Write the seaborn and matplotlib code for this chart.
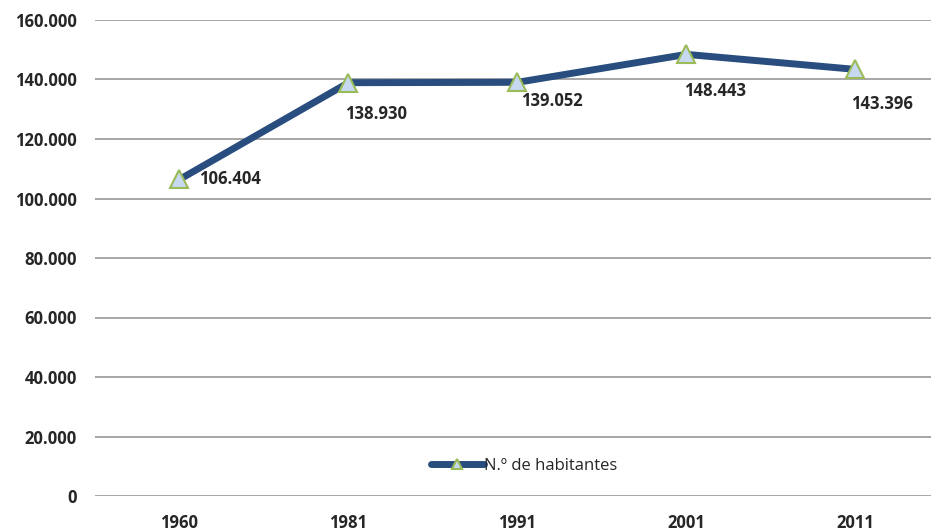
import matplotlib
matplotlib.use("Agg")
import matplotlib.pyplot as plt
import seaborn as sns
import pandas as pd

years = ["1960", "1981", "1991", "2001", "2011"]
habitantes = [106404, 138930, 139052, 148443, 143396]
value_labels = ["106.404", "138.930", "139.052", "148.443", "143.396"]
yticks = [0, 20000, 40000, 60000, 80000, 100000, 120000, 140000, 160000]
ytick_labels = ["0", "20.000", "40.000", "60.000", "80.000", "100.000", "120.000", "140.000", "160.000"]
series_name = "N.º de habitantes"

sns.set_theme(style="white")
plt.rcParams['font.family'] = ['Open Sans', 'DejaVu Sans']

df = pd.DataFrame({"x": range(len(years)), "y": habitantes, "serie": series_name})

fig = plt.figure(figsize=(9.31, 5.31), dpi=100)
ax = fig.add_axes([95/931, 35/531, (931-95)/931, (496-20)/531])

for t in yticks:
    ax.axhline(t, color="#a6a6a6", lw=1.4, zorder=0)

sns.lineplot(data=df, x="x", y="y", hue="serie", palette=["#284d7e"], lw=5,
             marker="^", markersize=13, markerfacecolor="#c6d9f1",
             markeredgecolor="#9bbb59", markeredgewidth=1.5, ax=ax, zorder=3)

offsets = [(20, 0, "left"), (28, -31, "center"), (34, -19, "center"),
           (29, -37, "center"), (27, -35, "center")]
for i, (lab, v) in enumerate(zip(value_labels, habitantes)):
    dx, dy, ha = offsets[i]
    ax.annotate(lab, (i, v), xytext=(dx, dy), textcoords="offset pixels", ha=ha, va="center",
                fontsize=12, fontweight="bold", color="#262626")

ax.set_xlim(-0.5, 4.447)
ax.set_ylim(0, 160000)
ax.set_xticks(range(len(years)))
ax.set_xticklabels(years)
ax.set_yticks(yticks)
ax.set_yticklabels(ytick_labels)
ax.tick_params(axis="both", length=0, labelsize=12, labelcolor="#262626")
for lbl in ax.get_xticklabels() + ax.get_yticklabels():
    lbl.set_fontweight("bold")
ax.tick_params(axis="y", pad=13)
ax.tick_params(axis="x", pad=13)
for s in ax.spines.values():
    s.set_visible(False)
ax.set_xlabel("")
ax.set_ylabel("")
leg = ax.legend(loc="center", bbox_to_anchor=((524-95)/836, (531-466-35)/476), frameon=False,
                fontsize=12, handlelength=3.2, handletextpad=0.0, markerscale=0.6)
for t in leg.get_texts():
    t.set_color("#262626")
fig.savefig("out.png", dpi=100)
